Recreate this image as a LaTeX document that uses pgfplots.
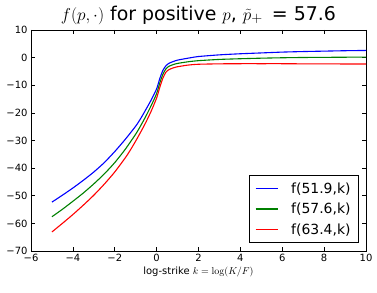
\documentclass[border=0pt]{standalone}
\usepackage[no-math]{fontspec}
\setmainfont{DejaVu Sans}
\usepackage{pgfplots}
\pgfplotsset{compat=1.18}
\definecolor{mplblue}{rgb}{0,0,1}
\definecolor{mplgreen}{rgb}{0,0.5,0}
\definecolor{mplred}{rgb}{1,0,0}
\begin{document}
\begin{tikzpicture}
\path (-31bp,-42bp) rectangle (346bp,251bp);
\begin{axis}[
  at={(0,0)}, anchor=south west,
  width=335bp, height=221bp, scale only axis,
  xmin=-6, xmax=10, ymin=-70, ymax=10,
  xtick={-6,-4,...,10}, xticklabels={−6,−4,−2,0,2,4,6,8,10},
  ytick={-70,-60,...,10}, yticklabels={−70,−60,−50,−40,−30,−20,−10,0,10},
  tick align=inside, xtick pos=both, ytick pos=both,
  major tick length=4bp,
  axis line style={line width=0.8bp},
  every tick/.style={black, line width=0.6bp},
  tick label style={font=\fontsize{10}{12}\selectfont},
  title={$f(p,\cdot)$ for positive $p$, $\tilde p_{+}$\, = 57.6},
  title style={font=\fontsize{19}{22}\selectfont, yshift=-4bp},
  xlabel={log-strike $k=\log(K/F)$},
  xlabel style={font=\fontsize{10}{12}\selectfont, yshift=2bp},
  legend style={at={(0.979,0.036)}, anchor=south east, draw=black, line width=0.8bp,
    font=\fontsize{14}{16}\selectfont, row sep=4.5bp, inner xsep=6bp, inner ysep=5bp},
  legend cell align=left,
  legend image code/.code={\draw[#1, line width=1.1bp] (0bp,0bp) -- (22bp,0bp);},
  every axis plot/.append style={line width=1.1bp, smooth, tension=0.4},
]
\addplot[mplblue, draw=mplblue] coordinates {
(-5,-52.3) (-4.5,-49.8) (-4,-47.2) (-3.5,-44.4) (-3,-41.4) (-2.5,-38.0) (-2,-34.0)
(-1.5,-29.6) (-1,-24.8) (-0.75,-21.9) (-0.5,-18.6) (-0.25,-15.2) (0,-11.3) (0.15,-7.6)
(0.3,-4.6) (0.45,-2.9) (0.6,-2.0) (0.8,-1.4) (1.0,-0.9) (1.5,-0.2) (2,0.4) (3,1.0)
(4,1.4) (5,1.7) (6,2.0) (7,2.2) (8,2.35) (9,2.5) (10,2.6)};
\addlegendentry{\hspace{11bp}f(51.9,k)}
\addplot[mplgreen, draw=mplgreen] coordinates {
(-5,-57.6) (-4.5,-54.9) (-4,-52.0) (-3.5,-49.0) (-3,-45.7) (-2.5,-42.1) (-2,-38.0)
(-1.5,-33.2) (-1,-27.7) (-0.75,-24.5) (-0.5,-21.0) (-0.25,-17.2) (0,-13.0) (0.15,-9.2)
(0.3,-6.0) (0.45,-4.0) (0.6,-3.1) (0.8,-2.5) (1.0,-2.1) (1.5,-1.5) (2,-1.1) (3,-0.65)
(4,-0.4) (5,-0.2) (6,-0.05) (7,0.05) (8,0.1) (9,0.15) (10,0.2)};
\addlegendentry{\hspace{11bp}f(57.6,k)}
\addplot[mplred, draw=mplred] coordinates {
(-5,-63.1) (-4.5,-60.0) (-4,-56.8) (-3.5,-53.4) (-3,-49.8) (-2.5,-45.8) (-2,-41.4)
(-1.5,-36.3) (-1.25,-33.4) (-1,-30.2) (-0.75,-26.8) (-0.5,-23.2) (-0.25,-19.2) (0,-14.6)
(0.15,-10.8) (0.3,-7.4) (0.45,-5.2) (0.6,-4.3) (0.8,-3.7) (1.0,-3.3) (1.5,-2.7) (2,-2.4)
(3,-2.25) (4,-2.2) (5,-2.2) (6,-2.2) (7,-2.25) (8,-2.25) (9,-2.3) (10,-2.3)};
\addlegendentry{\hspace{11bp}f(63.4,k)}
\end{axis}
\end{tikzpicture}
\end{document}
